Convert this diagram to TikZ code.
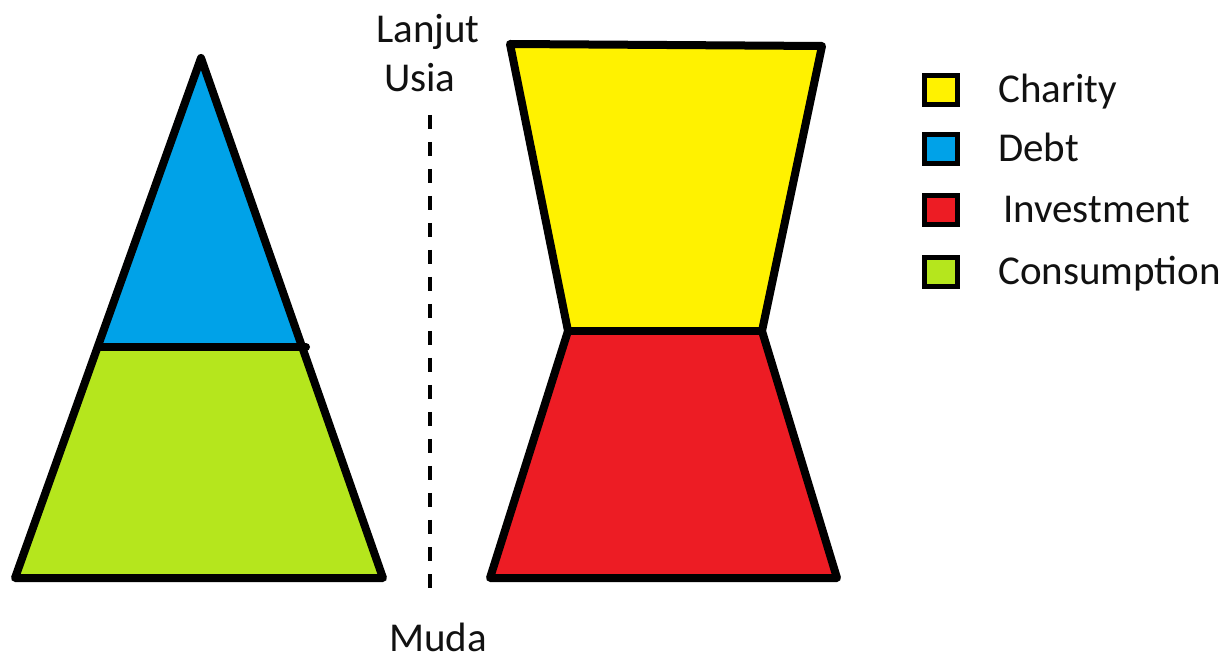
\documentclass[tikz,border=0pt]{standalone}
\usepackage{fontspec}
\setmainfont{Carlito}
\definecolor{pyellow}{HTML}{FFF200}
\definecolor{pblue}{HTML}{00A2E8}
\definecolor{pred}{HTML}{ED1C24}
\definecolor{pgreen}{HTML}{B5E61D}
\definecolor{ptext}{HTML}{111111}
\tikzset{
  shapeline/.style={draw=black, line width=8pt, line join=round, line cap=round},
  keybox/.style={draw=black, line width=5pt},
  lbl/.style={anchor=base west, inner sep=0pt, text=ptext, font=\fontsize{41}{49}\selectfont},
  axisline/.style={draw=black, line width=4pt, dash pattern=on 14pt off 13pt}
}
\begin{document}
\begin{tikzpicture}[x=1pt,y=1pt]
\useasboundingbox (0,0) rectangle (1227,662);
% pixel y -> 662 - y
% left pyramid
\coordinate (apex) at (201,604);
\coordinate (ml) at (98,315);
\coordinate (mr) at (303,315);
\coordinate (bl) at (15,84);
\coordinate (br) at (383,84);
\fill[pgreen] (ml) -- (mr) -- (br) -- (bl) -- cycle;
\fill[pblue] (apex) -- (mr) -- (ml) -- cycle;
\draw[shapeline] (bl) -- (apex) -- (br) -- cycle;
\draw[shapeline] (ml) -- (306,315);
% right hourglass shape
\coordinate (tl) at (510,618);
\coordinate (tr) at (822,616);
\coordinate (nl) at (568,331);
\coordinate (nr) at (762,331);
\coordinate (ll) at (490,84);
\coordinate (lr) at (837,84);
\fill[pyellow] (tl) -- (tr) -- (nr) -- (nl) -- cycle;
\fill[pred] (nl) -- (nr) -- (lr) -- (ll) -- cycle;
\draw[shapeline] (tl) -- (tr) -- (nr) -- (lr) -- (ll) -- (nl) -- cycle;
\draw[shapeline] (nl) -- (nr);
% axis
\coordinate (atop) at (430,547);
\coordinate (abot) at (430,65);
\draw[axisline] (atop) -- (abot);
\node[lbl] (lanjut) at (376,619) {Lanjut};
\node[lbl] (usia) at (384,570) {Usia};
\node[lbl] (muda) at (389,11) {Muda};
% legend
\foreach \n/\c/\y/\t/\dx in {ch/pyellow/572/Charity/998, de/pblue/513/Debt/998, in/pred/452/Investment/1003, co/pgreen/390/Consumption/998}{
  \node[keybox, fill=\c, minimum width=33pt, minimum height=29pt, inner sep=0pt] (box\n) at (941,\y) {};
  \node[lbl] (txt\n) at (\dx,\y-13) {\t};
}
\end{tikzpicture}
\end{document}
